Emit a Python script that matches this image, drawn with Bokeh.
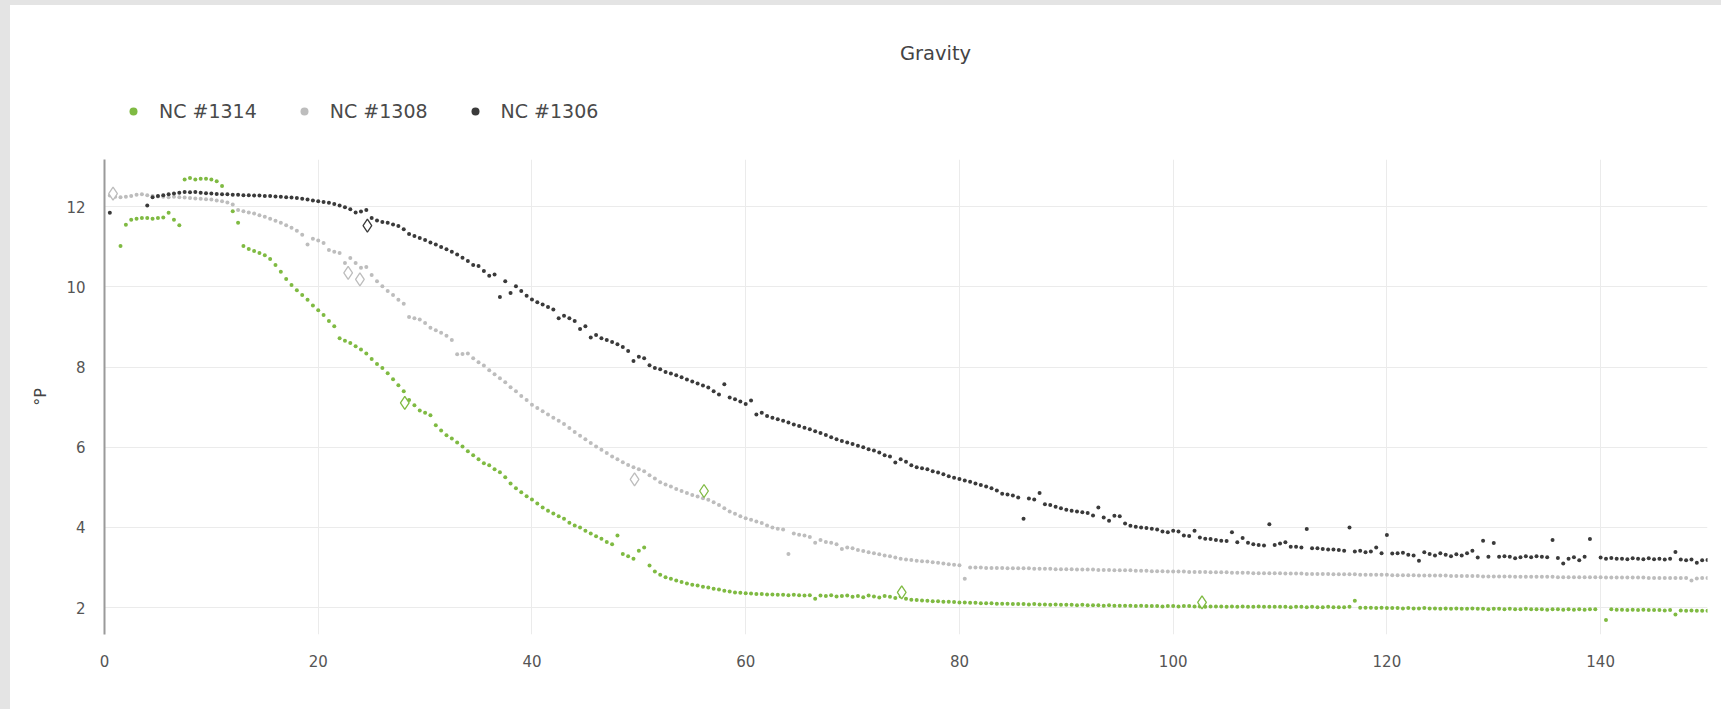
import math
from bokeh.plotting import figure
from bokeh.layouts import column
from bokeh.models import Range1d, Legend, LegendItem, FixedTicker, ColumnDataSource, Label
from bokeh.embed import file_html
from bokeh.resources import INLINE

nan = float("nan")

# sample times (x) : every 0.5 units from 0.5 to 150
x_step = 0.5
n_samples = 300

nc1306 = [
    11.85, nan, nan, nan, nan, nan, nan, 12.03, 12.24, 12.27,
    12.29, 12.31, 12.33, 12.35, 12.37, 12.36, 12.37, 12.35, 12.34, 12.33,
    12.32, 12.31, 12.31, 12.30, 12.30, 12.29, 12.29, 12.28, 12.28, 12.27,
    12.27, 12.26, 12.25, 12.24, 12.23, 12.22, 12.20, 12.18, 12.16, 12.14,
    12.12, 12.10, 12.07, 12.03, 11.99, 11.94, 11.86, 11.88, 11.92, 11.72,
    11.66, 11.62, 11.60, 11.56, 11.52, 11.44, 11.32, 11.27, 11.22, 11.17,
    11.11, 11.06, 11.00, 10.94, 10.88, 10.81, 10.73, 10.65, 10.55, 10.52,
    10.40, 10.28, 10.31, 9.75, 10.14, 9.85, 10.02, 9.90, 9.78, 9.69,
    9.62, 9.56, 9.50, 9.44, 9.22, 9.28, 9.22, 9.15, 8.95, 9.02,
    8.74, 8.80, 8.72, 8.68, 8.63, 8.57, 8.50, 8.40, 8.15, 8.26,
    8.22, 8.05, 7.98, 7.95, 7.88, 7.84, 7.80, 7.75, 7.69, 7.64,
    7.59, 7.54, 7.49, 7.40, 7.32, 7.57, 7.24, 7.20, 7.14, 7.08,
    7.17, 6.82, 6.86, 6.78, 6.74, 6.70, 6.66, 6.62, 6.57, 6.53,
    6.49, 6.45, 6.40, 6.36, 6.31, 6.25, 6.20, 6.16, 6.12, 6.08,
    6.04, 6.00, 5.95, 5.92, 5.87, 5.80, 5.77, 5.62, 5.70, 5.64,
    5.55, 5.50, 5.48, 5.45, 5.40, 5.37, 5.33, 5.28, 5.24, 5.21,
    5.17, 5.14, 5.10, 5.06, 5.02, 4.98, 4.92, 4.84, 4.82, 4.80,
    4.75, 4.22, 4.72, 4.70, 4.86, 4.58, 4.56, 4.52, 4.48, 4.44,
    4.42, 4.40, 4.38, 4.36, 4.30, 4.50, 4.25, 4.17, 4.29, 4.28,
    4.10, 4.04, 4.02, 4.00, 3.99, 3.97, 3.95, 3.90, 3.88, 3.92,
    3.90, 3.80, 3.79, 3.92, 3.75, 3.72, 3.71, 3.69, 3.67, 3.66,
    3.88, 3.63, 3.74, 3.62, 3.58, 3.56, 3.55, 4.08, 3.56, 3.60,
    3.63, 3.52, 3.52, 3.50, 3.96, 3.48, 3.48, 3.46, 3.45, 3.45,
    3.44, 3.42, 4.00, 3.40, 3.42, 3.38, 3.40, 3.50, 3.36, 3.81,
    3.35, 3.36, 3.37, 3.32, 3.30, 3.17, 3.38, 3.34, 3.30, 3.36,
    3.32, 3.28, 3.33, 3.30, 3.36, 3.42, 3.25, 3.67, 3.27, 3.61,
    3.27, 3.28, 3.27, 3.23, 3.26, 3.28, 3.26, 3.28, 3.27, 3.26,
    3.69, 3.24, 3.10, 3.22, 3.26, 3.18, 3.27, 3.71, nan, 3.25,
    3.22, 3.24, 3.22, 3.22, 3.21, 3.23, 3.22, 3.21, 3.23, 3.21,
    3.22, 3.20, 3.22, 3.39, 3.20, 3.18, 3.20, 3.12, 3.18, 3.19,
]

nc1308 = [
    12.28, 12.25, 12.24, 12.25, 12.27, 12.30, 12.31, 12.29, 12.27, 12.26,
    12.25, 12.24, 12.25, 12.24, 12.23, 12.22, 12.21, 12.20, 12.19, 12.18,
    12.16, 12.14, 12.11, 12.06, 11.92, 11.89, 11.86, 11.83, 11.79, 11.75,
    11.70, 11.65, 11.60, 11.54, 11.48, 11.40, 11.30, 11.06, 11.20, 11.16,
    11.10, 10.92, 10.88, 10.85, 10.60, 10.72, 10.60, 10.48, 10.50, 10.30,
    10.14, 10.02, 9.90, 9.80, 9.68, 9.58, 9.25, 9.22, 9.19, 9.10,
    8.98, 8.92, 8.86, 8.78, 8.68, 8.32, 8.33, 8.34, 8.22, 8.12,
    8.04, 7.92, 7.82, 7.72, 7.62, 7.50, 7.40, 7.28, 7.18, 7.06,
    6.98, 6.90, 6.82, 6.74, 6.66, 6.58, 6.48, 6.38, 6.29, 6.20,
    6.11, 6.02, 5.94, 5.86, 5.77, 5.70, 5.63, 5.56, 5.50, 5.45,
    5.40, 5.30, 5.22, 5.13, 5.07, 5.02, 4.96, 4.91, 4.86, 4.81,
    4.77, 4.73, 4.69, 4.63, 4.56, 4.48, 4.40, 4.34, 4.28, 4.23,
    4.19, 4.15, 4.11, 4.05, 4.00, 3.97, 3.95, 3.34, 3.85, 3.82,
    3.80, 3.76, 3.62, 3.69, 3.64, 3.62, 3.58, 3.46, 3.50, 3.48,
    3.44, 3.41, 3.38, 3.36, 3.33, 3.30, 3.28, 3.25, 3.22, 3.20,
    3.19, 3.17, 3.16, 3.15, 3.13, 3.12, 3.10, 3.08, 3.07, 3.06,
    2.72, 3.00, 3.00, 3.00, 2.99, 2.99, 2.99, 2.99, 2.98, 2.98,
    2.98, 2.98, 2.98, 2.97, 2.97, 2.97, 2.97, 2.96, 2.96, 2.96,
    2.96, 2.95, 2.95, 2.95, 2.95, 2.94, 2.94, 2.94, 2.93, 2.93,
    2.93, 2.93, 2.92, 2.92, 2.92, 2.91, 2.91, 2.91, 2.90, 2.90,
    2.90, 2.90, 2.89, 2.89, 2.89, 2.89, 2.88, 2.88, 2.88, 2.88,
    2.87, 2.87, 2.87, 2.87, 2.86, 2.86, 2.86, 2.86, 2.86, 2.86,
    2.85, 2.85, 2.85, 2.85, 2.84, 2.84, 2.84, 2.84, 2.84, 2.83,
    2.83, 2.83, 2.83, 2.83, 2.82, 2.82, 2.82, 2.82, 2.82, 2.82,
    2.81, 2.81, 2.81, 2.81, 2.81, 2.80, 2.80, 2.80, 2.80, 2.80,
    2.80, 2.79, 2.79, 2.79, 2.79, 2.79, 2.79, 2.78, 2.78, 2.78,
    2.78, 2.78, 2.78, 2.77, 2.77, 2.77, 2.77, 2.77, 2.77, 2.77,
    2.77, 2.76, 2.76, 2.76, 2.76, 2.76, 2.76, 2.76, 2.76, 2.76,
    2.75, 2.75, 2.75, 2.75, 2.75, 2.75, 2.75, 2.75, 2.74, 2.74,
    2.74, 2.74, 2.74, 2.74, 2.74, 2.74, 2.68, 2.73, 2.74, 2.74,
]

nc1314 = [
    nan, nan, 11.02, 11.55, 11.68, 11.70, 11.72, 11.72, 11.70, 11.72,
    11.73, 11.85, 11.68, 11.54, 12.68, 12.72, 12.68, 12.70, 12.70, 12.68,
    12.64, 12.52, nan, 11.89, 11.60, 11.02, 10.95, 10.90, 10.85, 10.79,
    10.70, 10.55, 10.38, 10.20, 10.05, 9.92, 9.80, 9.68, 9.54, 9.42,
    9.30, 9.15, 9.02, 8.72, 8.66, 8.60, 8.52, 8.44, 8.34, 8.20,
    8.08, 7.98, 7.85, 7.70, 7.55, 7.40, 7.18, 7.05, 6.92, 6.86,
    6.80, 6.55, 6.42, 6.30, 6.22, 6.12, 6.02, 5.90, 5.80, 5.70,
    5.60, 5.55, 5.45, 5.38, 5.25, 5.10, 4.98, 4.88, 4.78, 4.70,
    4.60, 4.50, 4.42, 4.35, 4.28, 4.22, 4.12, 4.05, 4.00, 3.92,
    3.85, 3.78, 3.72, 3.64, 3.58, 3.80, 3.34, 3.28, 3.22, 3.42,
    3.50, 3.05, 2.90, 2.82, 2.76, 2.72, 2.68, 2.64, 2.60, 2.57,
    2.55, 2.52, 2.50, 2.47, 2.45, 2.42, 2.40, 2.38, 2.37, 2.36,
    2.35, 2.34, 2.34, 2.33, 2.33, 2.32, 2.32, 2.31, 2.32, 2.31,
    2.30, 2.31, 2.22, 2.30, 2.29, 2.31, 2.28, 2.29, 2.30, 2.27,
    2.29, 2.26, 2.30, 2.28, 2.25, 2.29, 2.27, 2.24, 2.28, 2.22,
    2.20, 2.19, 2.18, 2.17, 2.16, 2.16, 2.15, 2.15, 2.14, 2.13,
    2.13, 2.12, 2.12, 2.11, 2.11, 2.11, 2.10, 2.10, 2.10, 2.09,
    2.09, 2.09, 2.08, 2.09, 2.08, 2.08, 2.07, 2.08, 2.07, 2.07,
    2.07, 2.06, 2.07, 2.06, 2.06, 2.06, 2.05, 2.06, 2.05, 2.05,
    2.05, 2.05, 2.04, 2.05, 2.04, 2.04, 2.04, 2.03, 2.04, 2.04,
    2.03, 2.04, 2.04, 2.03, 2.03, 2.02, 2.03, 2.03, 2.03, 2.02,
    2.03, 2.02, 2.03, 2.02, 2.02, 2.03, 2.02, 2.02, 2.02, 2.02,
    2.02, 2.01, 2.02, 2.02, 2.01, 2.02, 2.01, 2.01, 2.02, 2.01,
    2.01, 2.01, 2.02, 2.17, 2.00, 2.00, 2.00, 1.99, 2.00, 1.99,
    1.99, 1.99, 1.98, 1.99, 1.98, 1.98, 1.99, 1.98, 1.98, 1.97,
    1.98, 1.97, 1.98, 1.97, 1.97, 1.98, 1.97, 1.97, 1.96, 1.97,
    1.97, 1.96, 1.97, 1.96, 1.96, 1.97, 1.96, 1.96, 1.96, 1.95,
    1.96, 1.96, 1.95, 1.96, 1.95, 1.96, 1.95, 1.96, 1.96, nan,
    1.69, 1.96, 1.95, 1.95, 1.94, 1.95, 1.94, 1.95, 1.94, 1.94,
    1.94, 1.93, 1.94, 1.83, 1.93, 1.92, 1.93, 1.92, 1.92, 1.92,
]

# event markers (hollow diamonds)
ev1314_x = [28.1, 56.1, 74.6, 102.7]
ev1314_y = [7.11, 4.91, 2.38, 2.13]
ev1308_x = [0.8, 22.8, 23.9, 49.6]
ev1308_y = [12.33, 10.35, 10.19, 5.20]
ev1306_x = [24.6]
ev1306_y = [11.53]

title_text = "Gravity"
series_names = ["NC #1314", "NC #1308", "NC #1306"]
colors = ["#7fba42", "#bdbdbd", "#3a3a3a"]
x_ticks = [0, 20, 40, 60, 80, 100, 120, 140]
y_ticks = [2, 4, 6, 8, 10, 12]

FONT = "DejaVu Sans"
W = 1711
HEAD_H = 154
MAIN_H = 550
BORDER_L = 94
BORDER_R = 14

xs = [x_step * (i + 1) for i in range(n_samples)]

sources = []
for vals in [nc1314, nc1308, nc1306]:
    sources.append(ColumnDataSource(dict(
        x=[x for x, v in zip(xs, vals) if not math.isnan(v)],
        y=[v for v in vals if not math.isnan(v)])))

# ---------------- header: title + legend ----------------
head = figure(width=W, height=HEAD_H, output_backend="svg", toolbar_location=None,
              x_range=Range1d(0, 0.1), y_range=Range1d(0, 0.1),
              x_axis_type=None, y_axis_type=None,
              min_border_left=BORDER_L, min_border_right=BORDER_R,
              min_border_top=0, min_border_bottom=0)
head.outline_line_color = None
head.xgrid.visible = False
head.ygrid.visible = False
head.border_fill_color = "white"
head.background_fill_color = "white"

legend_rs = []
for src, col in zip(sources, colors):
    # same data as the chart; out of this header's range, so only its legend glyph shows
    legend_rs.append(head.scatter("x", "y", source=src, marker="circle", size=4.5,
                                  fill_color=col, line_color=None))

legend = Legend(items=[LegendItem(label=n, renderers=[r]) for n, r in zip(series_names, legend_rs)],
                orientation="horizontal", location=(19, 37),
                glyph_width=20, glyph_height=20, label_standoff=16, spacing=37,
                padding=0, margin=0, border_line_color=None,
                background_fill_alpha=0.0,
                label_text_font=FONT, label_text_font_size="19px",
                label_text_color="#4a4a4a")
head.add_layout(legend, "center")

head.add_layout(Label(x=831, y=106, x_units="screen", y_units="screen", text=title_text,
                      text_align="center", text_baseline="middle",
                      text_font=FONT, text_font_size="19.5px", text_color="#444444"))

# ---------------- main plot ----------------
p = figure(width=W, height=MAIN_H, output_backend="svg", toolbar_location=None,
           x_range=Range1d(0, 150), y_range=Range1d(1.33, 13.18),
           min_border_left=BORDER_L, min_border_right=BORDER_R, min_border_top=0,
           min_border_bottom=75)
p.outline_line_color = None
p.background_fill_color = "white"
p.border_fill_color = "white"

p.xgrid.ticker = FixedTicker(ticks=x_ticks)
p.ygrid.ticker = FixedTicker(ticks=y_ticks)
p.xgrid.grid_line_color = "#ebebeb"
p.ygrid.grid_line_color = "#ebebeb"

p.xaxis.ticker = FixedTicker(ticks=x_ticks)
p.yaxis.ticker = FixedTicker(ticks=y_ticks)
for ax in (p.xaxis[0], p.yaxis[0]):
    ax.major_tick_line_color = None
    ax.minor_tick_line_color = None
    ax.major_label_text_font = FONT
    ax.major_label_text_font_size = "15px"
    ax.major_label_text_color = "#555555"
p.xaxis.axis_line_color = None
p.xaxis.major_label_standoff = 14
p.yaxis.axis_line_color = "#9a9a9a"
p.yaxis.axis_line_width = 2
p.yaxis.major_label_standoff = 13
p.yaxis.axis_label = "°P"
p.yaxis.axis_label_text_font = FONT
p.yaxis.axis_label_text_font_size = "16px"
p.yaxis.axis_label_text_font_style = "normal"
p.yaxis.axis_label_text_color = "#444444"
p.yaxis.axis_label_standoff = 13

for src, col in zip(sources, colors):
    p.scatter("x", "y", source=src, marker="circle", size=4,
              fill_color=col, line_color=None)

for ex, ey, col in [(ev1314_x, ev1314_y, colors[0]), (ev1308_x, ev1308_y, colors[1]),
                    (ev1306_x, ev1306_y, colors[2])]:
    p.scatter(ex, ey, marker="diamond", size=13, fill_color="white",
              line_color=col, line_width=1.3)

layout = column(head, p, spacing=0)

html = file_html(layout, INLINE)
style = ("<style>body{border-left:10px solid #e4e4e4 !important;"
         "border-top:5px solid #e4e4e4 !important;background:#ffffff !important;}</style>")
html = html.replace("</head>", style + "</head>", 1)
open("out.html", "w").write(html)
